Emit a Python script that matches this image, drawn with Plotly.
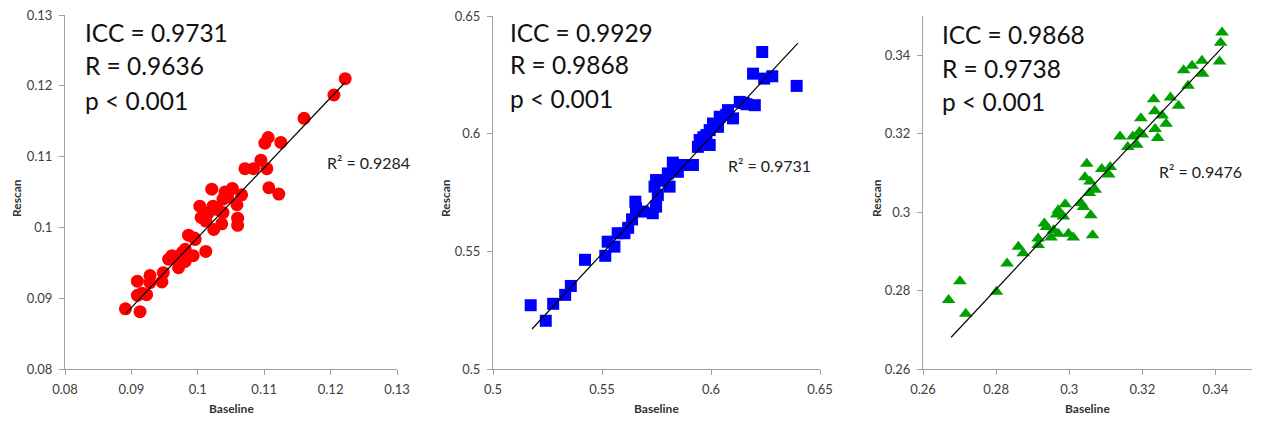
import plotly.graph_objects as go

W, H = 1263, 422

# ---------------- data ----------------
p1_baseline = [0.1222, 0.1205, 0.1160, 0.1106, 0.1101, 0.1125, 0.1095, 0.1071, 0.1084, 0.1104,
               0.1107, 0.1122, 0.1021, 0.1041, 0.1052, 0.1066, 0.1038, 0.1059, 0.1003, 0.1023,
               0.1016, 0.1038, 0.1060, 0.1012, 0.1036, 0.1060, 0.1024, 0.0986, 0.0996, 0.0981,
               0.1012, 0.0961, 0.0993, 0.0956, 0.0981, 0.0971, 0.0948, 0.0928, 0.0946, 0.0928,
               0.0909, 0.0923, 0.0909, 0.0891, 0.0913, 0.0916, 0.0995, 0.1005, 0.1030, 0.1045,
               0.0977, 0.0966]
p1_rescan = [0.1210, 0.1187, 0.1154, 0.1127, 0.1119, 0.1120, 0.1095, 0.1083, 0.1083, 0.1083,
             0.1056, 0.1047, 0.1054, 0.1050, 0.1055, 0.1046, 0.1040, 0.1032, 0.1030, 0.1030,
             0.1021, 0.1021, 0.1013, 0.1009, 0.1005, 0.1003, 0.0997, 0.0989, 0.0983, 0.0969,
             0.0966, 0.0960, 0.0960, 0.0955, 0.0952, 0.0943, 0.0936, 0.0932, 0.0923, 0.0922,
             0.0924, 0.0905, 0.0904, 0.0885, 0.0881, 0.0907, 0.0985, 0.1014, 0.1025, 0.1043,
             0.0965, 0.0958]
p1_trend_x = [0.0892, 0.1222]
p1_trend_y = [0.0879, 0.1205]

p2_baseline = [0.6235, 0.6393, 0.6193, 0.6244, 0.6281, 0.6201, 0.6163, 0.6132, 0.6101, 0.6078,
               0.6040, 0.6009, 0.6032, 0.5994, 0.5979, 0.5948, 0.5994, 0.5940, 0.5917, 0.5863,
               0.5825, 0.5848, 0.5802, 0.5810, 0.5748, 0.5741, 0.5756, 0.5748, 0.5733, 0.5653,
               0.5656, 0.5687, 0.5638, 0.5603, 0.5572, 0.5557, 0.5526, 0.5515, 0.5422, 0.5357,
               0.5331, 0.5276, 0.5173, 0.5242, 0.5620, 0.5785, 0.5965, 0.6070, 0.6150]
p2_rescan = [0.6347, 0.6203, 0.6255, 0.6234, 0.6244, 0.6121, 0.6125, 0.6135, 0.6065, 0.6100,
             0.6072, 0.6043, 0.6029, 0.6015, 0.5994, 0.5973, 0.5952, 0.5944, 0.5867, 0.5867,
             0.5877, 0.5838, 0.5831, 0.5775, 0.5803, 0.5775, 0.5739, 0.5690, 0.5662, 0.5711,
             0.5683, 0.5669, 0.5636, 0.5577, 0.5577, 0.5520, 0.5541, 0.5481, 0.5464, 0.5353,
             0.5315, 0.5277, 0.5271, 0.5205, 0.5600, 0.5800, 0.5985, 0.6080, 0.6130]
p2_trend_x = [0.5179, 0.6399]
p2_trend_y = [0.5170, 0.6385]

p3_baseline = [0.3418, 0.3414, 0.3411, 0.3363, 0.3336, 0.3313, 0.3365, 0.3325, 0.3277, 0.3299,
               0.3231, 0.3234, 0.3254, 0.3265, 0.3196, 0.3235, 0.3242, 0.3192, 0.3200, 0.3174,
               0.3139, 0.3185, 0.3160, 0.3048, 0.3089, 0.3112, 0.3108, 0.3043, 0.3057, 0.3071,
               0.3055, 0.3032, 0.3039, 0.2989, 0.2970, 0.2984, 0.2966, 0.3059, 0.2932, 0.2938,
               0.2970, 0.2957, 0.2998, 0.3011, 0.3064, 0.2915, 0.2950, 0.2915, 0.2861, 0.2874,
               0.2830, 0.2801, 0.2701, 0.2670, 0.2717]
p3_rescan = [0.3458, 0.3432, 0.3384, 0.3386, 0.3373, 0.3362, 0.3353, 0.3322, 0.3292, 0.3271,
             0.3288, 0.3257, 0.3246, 0.3225, 0.3239, 0.3212, 0.3189, 0.3204, 0.3198, 0.3193,
             0.3193, 0.3172, 0.3166, 0.3123, 0.3110, 0.3115, 0.3096, 0.3089, 0.3078, 0.3057,
             0.3049, 0.3023, 0.3013, 0.3020, 0.3005, 0.2989, 0.2994, 0.2992, 0.2971, 0.2962,
             0.2945, 0.2954, 0.2945, 0.2935, 0.2941, 0.2933, 0.2935, 0.2916, 0.2912, 0.2895,
             0.2869, 0.2797, 0.2824, 0.2776, 0.2741]
p3_trend_x = [0.2677, 0.3422]
p3_trend_y = [0.2681, 0.3423]

stats_text = [
    ["ICC = 0.9731", "R = 0.9636", "p < 0.001"],
    ["ICC = 0.9929", "R = 0.9868", "p < 0.001"],
    ["ICC = 0.9868", "R = 0.9738", "p < 0.001"],
]
r2_text = ["R² = 0.9284", "R² = 0.9731", "R² = 0.9476"]
x_ranges = [[0.08, 0.13], [0.5, 0.65], [0.26, 0.35]]
y_ranges = [[0.08, 0.13], [0.5, 0.65], [0.26, 0.35]]
dticks = [0.01, 0.05, 0.02]
x_title = "Baseline"
y_title = "Rescan"

# ---------------- layout geometry (pixels) ----------------
def px(x):
    return x / W

def py(y):
    return 1 - y / H

panels = [
    dict(x0=65, x1=397, y0=15, y1=369, color="#FF0000", symbol="circle", size=13,
         stats_x=83, stats_y=[32, 66, 100], r2_x=325, r2_y=163, ytitle_x=16),
    dict(x0=493, x1=820, y0=16, y1=369, color="#0000FF", symbol="square", size=12,
         stats_x=508, stats_y=[32, 65, 98], r2_x=726, r2_y=166, ytitle_x=445),
    dict(x0=923, x1=1252, y0=16, y1=369, color="#00A000", symbol="triangle-up", size=12,
         stats_x=940, stats_y=[34, 68, 102], r2_x=1157, r2_y=171, ytitle_x=876),
]

data_x = [p1_baseline, p2_baseline, p3_baseline]
data_y = [p1_rescan, p2_rescan, p3_rescan]
trend_x = [p1_trend_x, p2_trend_x, p3_trend_x]
trend_y = [p1_trend_y, p2_trend_y, p3_trend_y]

fig = go.Figure()
annotations = []
font_family = "Lato, 'Open Sans', sans-serif"
axis_color = "#A0A0A0"

for i, p in enumerate(panels):
    sfx = "" if i == 0 else str(i + 1)
    fig.add_trace(go.Scatter(
        x=data_x[i], y=data_y[i], mode="markers",
        marker=dict(color=p["color"], symbol=p["symbol"], size=p["size"], line=dict(width=0)),
        xaxis="x" + sfx, yaxis="y" + sfx, showlegend=False, hoverinfo="skip"))
    fig.add_trace(go.Scatter(
        x=trend_x[i], y=trend_y[i], mode="lines",
        line=dict(color="black", width=1.2),
        xaxis="x" + sfx, yaxis="y" + sfx, showlegend=False, hoverinfo="skip"))

    common = dict(showline=True, linecolor=axis_color, linewidth=1, showgrid=False, zeroline=False,
                  ticks="outside", ticklen=5, tickcolor=axis_color, tickwidth=1,
                  tickfont=dict(family=font_family, size=13, color="#404040"),
                  tick0=x_ranges[i][0], dtick=dticks[i], mirror=False, automargin=False)
    fig.layout["xaxis" + sfx] = dict(domain=[px(p["x0"]), px(p["x1"])], range=x_ranges[i],
                                     anchor="y" + sfx, ticklabelstandoff=3, **common)
    c2 = dict(common)
    c2["tick0"] = y_ranges[i][0]
    fig.layout["yaxis" + sfx] = dict(domain=[py(p["y1"]), py(p["y0"])], range=y_ranges[i],
                                     anchor="x" + sfx, ticklabelstandoff=4, **c2)

    for t, yy in zip(stats_text[i], p["stats_y"]):
        annotations.append(dict(text=t, x=px(p["stats_x"]), y=py(yy), xref="paper", yref="paper",
                                xanchor="left", yanchor="middle", showarrow=False,
                                font=dict(family=font_family, size=24.5, color="#111111")))
    annotations.append(dict(text=r2_text[i], x=px(p["r2_x"]), y=py(p["r2_y"]), xref="paper", yref="paper",
                            xanchor="left", yanchor="middle", showarrow=False,
                            font=dict(family=font_family, size=16, color="#222222")))
    annotations.append(dict(text="<b>" + x_title + "</b>", x=px((p["x0"] + p["x1"]) / 2), y=py(408),
                            xref="paper", yref="paper", xanchor="center", yanchor="middle",
                            showarrow=False, font=dict(family=font_family, size=12, color="#333333")))
    annotations.append(dict(text="<b>" + y_title + "</b>", x=px(p["ytitle_x"]), y=py(198),
                            xref="paper", yref="paper", xanchor="center", yanchor="middle",
                            textangle=-90, showarrow=False,
                            font=dict(family=font_family, size=12, color="#333333")))

fig.update_layout(width=W, height=H, margin=dict(l=0, r=0, t=0, b=0, autoexpand=False),
                  autosize=False,
                  paper_bgcolor="white", plot_bgcolor="white", annotations=annotations,
                  font=dict(family=font_family))

fig.write_html("out.html", config={"displayModeBar": False, "responsive": False},
               post_script="document.body.style.margin='0';document.documentElement.style.overflow='hidden';")
